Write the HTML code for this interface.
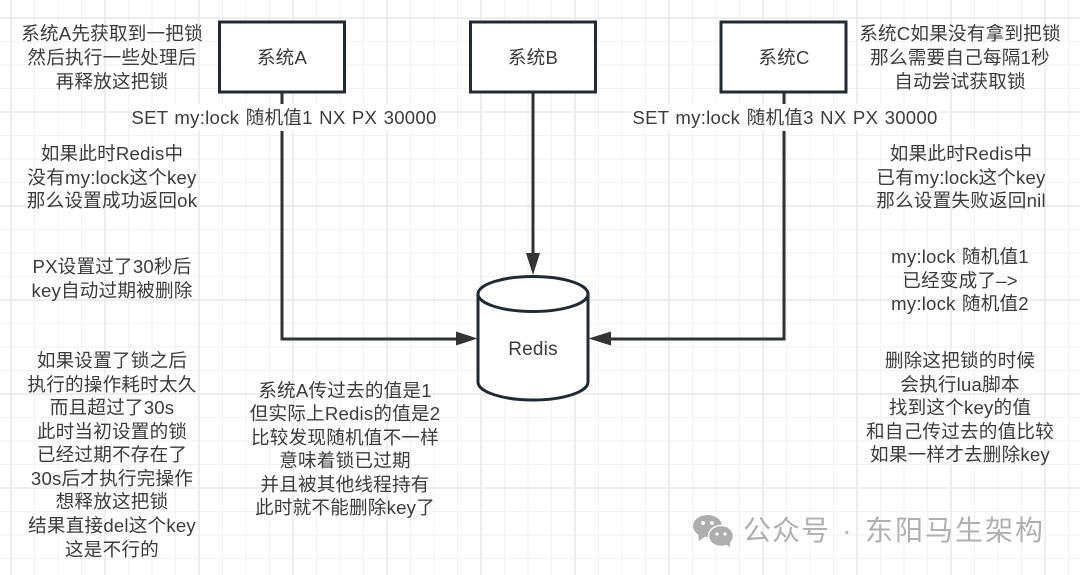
<!DOCTYPE html>
<html><head><meta charset="utf-8">
<style>
html,body{margin:0;padding:0;background:#fff;width:1080px;height:575px;overflow:hidden}
svg{display:block;position:absolute;left:0;top:0}
text{font-family:"Liberation Sans","Noto Sans CJK SC",sans-serif;font-size:18.6px;fill:#3c3c3c;text-anchor:middle;letter-spacing:.2px}
</style></head><body>
<svg width="1080" height="575" viewBox="0 0 1080 575" xmlns="http://www.w3.org/2000/svg">
<defs>
<pattern id="minor" x="9" y="16" width="23.5" height="23.5" patternUnits="userSpaceOnUse">
<path d="M2 0V23.5M0 2H23.5" stroke="#f3f3f3" stroke-width="1.3" fill="none"/>
</pattern>
<pattern id="major" x="9" y="16" width="94" height="94" patternUnits="userSpaceOnUse">
<path d="M2 0V94M0 2H94" stroke="#ececec" stroke-width="1.7" fill="none"/>
</pattern>
</defs>
<rect width="1080" height="575" fill="#fff"/>
<rect width="1080" height="575" fill="url(#minor)"/>
<rect width="1080" height="575" fill="url(#major)"/>

<g fill="none" stroke="#2f3133" stroke-width="3">
<path d="M282 92V339H458"/>
<path d="M533 92V255"/>
<path d="M784 92V339H609"/>
</g>
<g fill="#333">
<path d="M477.500 338.500L456 331.500V345.500Z"/>
<path d="M588.500 338.500L611 331.500V345.500Z"/>
<path d="M533 275L526 253H540Z"/>
</g>

<g fill="#fff" stroke="#222b33" stroke-width="3">
<rect x="219.500" y="22" width="125" height="70"/>
<rect x="470.500" y="22" width="125" height="70"/>
<rect x="721" y="22" width="125" height="70"/>
<path d="M478 294V382C478 392 503 400 533 400C563 400 588 392 588 382V294Z"/>
<ellipse cx="533" cy="294" rx="55" ry="17.500"/>
</g>

<rect x="132" y="104" width="304" height="27" fill="#fff"/>
<rect x="631" y="104" width="308" height="27" fill="#fff"/>

<text x="282" y="64">系统A</text>
<text x="533" y="64">系统B</text>
<text x="784" y="64">系统C</text>
<text x="533" y="355" style="font-size:19px">Redis</text>
<text x="284" y="124" style="letter-spacing:.25px;word-spacing:1px">SET my:lock 随机值1 NX PX 30000</text>
<text x="785" y="124" style="letter-spacing:.25px;word-spacing:1px">SET my:lock 随机值3 NX PX 30000</text>

<text x="112" y="40">系统A先获取到一把锁</text>
<text x="112" y="64">然后执行一些处理后</text>
<text x="112" y="88">再释放这把锁</text>

<text x="960" y="40">系统C如果没有拿到把锁</text>
<text x="960" y="64">那么需要自己每隔1秒</text>
<text x="960" y="88">自动尝试获取锁</text>

<text x="112" y="160">如果此时Redis中</text>
<text x="112" y="184">没有my:lock这个key</text>
<text x="112" y="207">那么设置成功返回ok</text>

<text x="961" y="160">如果此时Redis中</text>
<text x="961" y="184">已有my:lock这个key</text>
<text x="961" y="207">那么设置失败返回nil</text>

<text x="112" y="273">PX设置过了30秒后</text>
<text x="112" y="297">key自动过期被删除</text>

<text x="960" y="263" style="word-spacing:1px">my:lock 随机值1</text>
<text x="960" y="287">已经变成了–&gt;</text>
<text x="960" y="310" style="word-spacing:1px">my:lock 随机值2</text>

<text x="112" y="367">如果设置了锁之后</text>
<text x="112" y="391">执行的操作耗时太久</text>
<text x="112" y="414">而且超过了30s</text>
<text x="112" y="438">此时当初设置的锁</text>
<text x="112" y="461">已经过期不存在了</text>
<text x="112" y="485">30s后才执行完操作</text>
<text x="112" y="508">想释放这把锁</text>
<text x="112" y="532">结果直接del这个key</text>
<text x="112" y="556">这是不行的</text>

<text x="345" y="397">系统A传过去的值是1</text>
<text x="345" y="420">但实际上Redis的值是2</text>
<text x="345" y="444">比较发现随机值不一样</text>
<text x="345" y="467">意味着锁已过期</text>
<text x="345" y="491">并且被其他线程持有</text>
<text x="345" y="514">此时就不能删除key了</text>

<text x="960" y="367">删除这把锁的时候</text>
<text x="960" y="391">会执行lua脚本</text>
<text x="960" y="414">找到这个key的值</text>
<text x="960" y="438">和自己传过去的值比较</text>
<text x="960" y="461">如果一样才去删除key</text>

<g fill="#aeaeae">
<ellipse cx="707.500" cy="526" rx="14.500" ry="11"/>
<path d="M698 533L699 541L706 536Z"/>
<ellipse cx="721" cy="536" rx="12.500" ry="10.500" stroke="#fff" stroke-width="1.500"/>
<path d="M725 544L730 547L730 541Z"/>
</g>
<g fill="#fff">
<circle cx="703" cy="523" r="1.900"/><circle cx="712" cy="523" r="1.900"/>
<circle cx="717" cy="534" r="1.600"/><circle cx="725" cy="534" r="1.600"/>
</g>
<g style="font-size:28px">
<text x="743" y="540" style="font-size:28px;fill:#b0b0b0;text-anchor:start;letter-spacing:1px">公众号</text>
<text x="847" y="540" style="font-size:28px;fill:#b0b0b0;text-anchor:middle">·</text>
<text x="865" y="540" style="font-size:28px;fill:#b0b0b0;text-anchor:start;letter-spacing:2px">东阳马生架构</text>
</g>
</svg>
</body></html>
